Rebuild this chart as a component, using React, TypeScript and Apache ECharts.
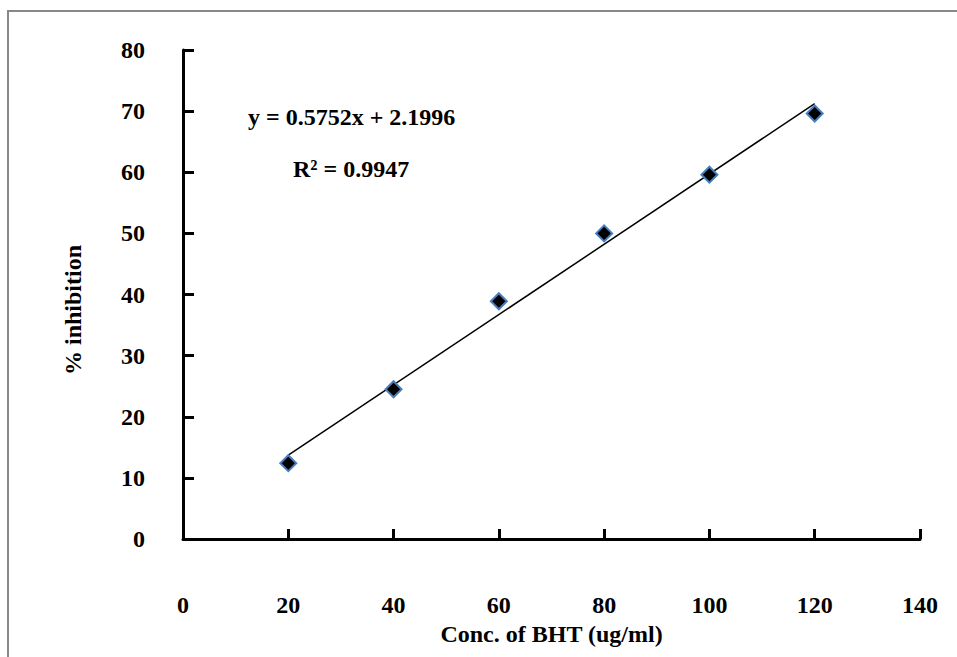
import React, { useEffect, useRef } from "react";
import * as echarts from "echarts";

const concentrations = [20, 40, 60, 80, 100, 120];
const inhibition = [12.4, 24.5, 38.9, 50.0, 59.6, 69.6];
const slope = 0.5752;
const intercept = 2.1996;
const rSquared = "0.9947";
const trendX = [20, 120];

const FONT = "'Liberation Serif', 'Times New Roman', serif";

export default function App() {
  const ref = useRef<HTMLDivElement>(null);
  useEffect(() => {
    if (!ref.current) return;
    const chart = echarts.init(ref.current, null, { renderer: "svg" });
    const scatterData = concentrations.map((c, i) => [c, inhibition[i]]);
    const trendData = trendX.map((x) => [x, slope * x + intercept]);
    chart.setOption({
      animation: false,
      backgroundColor: "#ffffff",
      textStyle: { fontFamily: FONT },
      grid: { left: 183, top: 50, right: 37, bottom: 118 },
      xAxis: {
        type: "value",
        min: 0,
        max: 140,
        interval: 20,
        name: "Conc. of BHT (ug/ml)",
        nameLocation: "middle",
        nameGap: 77,
        nameTextStyle: { fontFamily: FONT, fontWeight: "bold", fontSize: 24, color: "#000" },
        axisLine: { onZero: false, lineStyle: { color: "#000", width: 3 } },
        axisTick: { show: true, inside: true, length: 10, lineStyle: { color: "#000", width: 3 } },
        axisLabel: { margin: 54, fontFamily: FONT, fontWeight: "bold", fontSize: 24, color: "#000" },
        splitLine: { show: false },
      },
      yAxis: {
        type: "value",
        min: 0,
        max: 80,
        interval: 10,
        axisLine: { onZero: false, lineStyle: { color: "#000", width: 3 } },
        axisTick: { show: true, inside: true, length: 11, lineStyle: { color: "#000", width: 3 } },
        axisLabel: { margin: 38, fontFamily: FONT, fontWeight: "bold", fontSize: 24, color: "#000" },
        splitLine: { show: false },
      },
      series: [
        {
          type: "line",
          data: trendData,
          showSymbol: false,
          symbol: "none",
          lineStyle: { color: "#000", width: 1.5 },
          z: 2,
        },
        {
          type: "scatter",
          data: scatterData,
          symbol: "diamond",
          symbolSize: 16,
          itemStyle: { color: "#000", borderColor: "#4a7ebb", borderWidth: 2, opacity: 1 },
          z: 3,
        },
      ],
      graphic: [
        {
          type: "rect",
          shape: { x: 8, y: 11, width: 1000, height: 700 },
          style: { fill: "none", stroke: "#888888", lineWidth: 2 },
          z: 0,
        },
        {
          type: "text",
          x: 73,
          y: 310,
          rotation: Math.PI / 2,
          style: {
            text: "% inhibition",
            font: `bold 24px ${FONT}`,
            fill: "#000",
            align: "center",
            verticalAlign: "middle",
          },
        },
        {
          type: "text",
          x: 248,
          y: 117,
          style: {
            text: `y = ${slope}x + ${intercept}`,
            font: `bold 24px ${FONT}`,
            fill: "#000",
            align: "left",
            verticalAlign: "middle",
          },
        },
        {
          type: "text",
          x: 293,
          y: 169,
          style: {
            text: `R² = ${rSquared}`,
            font: `bold 24px ${FONT}`,
            fill: "#000",
            align: "left",
            verticalAlign: "middle",
          },
        },
      ],
    });
    return () => chart.dispose();
  }, []);
  return (
    <div
      ref={ref}
      style={{ position: "fixed", left: 0, top: 0, width: 957, height: 657 }}
    />
  );
}
